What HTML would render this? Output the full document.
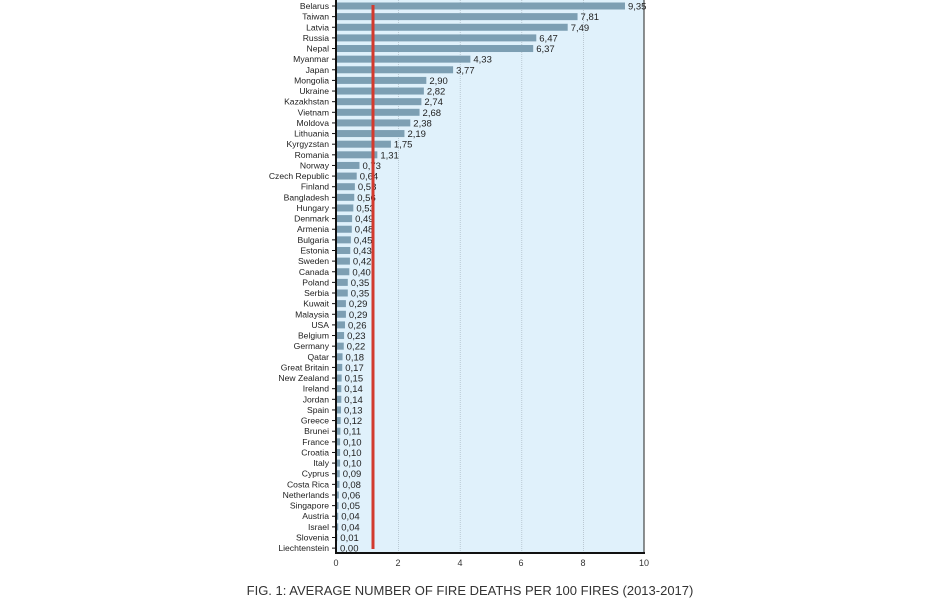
<!DOCTYPE html>
<html><head><meta charset="utf-8"><style>
html,body{margin:0;padding:0;background:#fff;}
svg{display:block;font-family:"Liberation Sans",sans-serif;}
</style></head><body>
<svg width="940" height="600" viewBox="0 0 940 600" xmlns="http://www.w3.org/2000/svg" id="s">
<rect x="337" y="0" width="307" height="553" fill="#e0f1fb"/>
<g stroke="#aab8c2" stroke-width="0.7" stroke-dasharray="1,1">
<line x1="398.6" y1="0" x2="398.6" y2="553"/><line x1="460.2" y1="0" x2="460.2" y2="553"/>
<line x1="521.8" y1="0" x2="521.8" y2="553"/><line x1="583.4" y1="0" x2="583.4" y2="553"/>
</g>
<line x1="644" y1="0" x2="644" y2="553" stroke="#222" stroke-width="1"/>
<g id="rows"></g>
<line x1="373" y1="5" x2="373" y2="549" stroke="#d23a2e" stroke-width="3"/>
<line x1="336" y1="0" x2="336" y2="554" stroke="#111" stroke-width="2"/>
<line x1="335" y1="553" x2="645" y2="553" stroke="#111" stroke-width="2"/>
<g font-size="9" fill="#333" text-anchor="middle">
<text x="336" y="566">0</text><text x="398" y="566">2</text><text x="460" y="566">4</text><text x="521" y="566">6</text><text x="583" y="566">8</text><text x="644" y="566">10</text>
</g>
<text x="470" y="595" font-size="13" fill="#333" text-anchor="middle">FIG. 1:  AVERAGE NUMBER OF FIRE DEATHS PER 100 FIRES (2013-2017)</text>
</svg>
<script>
var d=[["Belarus",9.35],["Taiwan",7.81],["Latvia",7.49],["Russia",6.47],["Nepal",6.37],["Myanmar",4.33],["Japan",3.77],["Mongolia",2.90],["Ukraine",2.82],["Kazakhstan",2.74],["Vietnam",2.68],["Moldova",2.38],["Lithuania",2.19],["Kyrgyzstan",1.75],["Romania",1.31],["Norway",0.73],["Czech Republic",0.64],["Finland",0.58],["Bangladesh",0.56],["Hungary",0.53],["Denmark",0.49],["Armenia",0.48],["Bulgaria",0.45],["Estonia",0.43],["Sweden",0.42],["Canada",0.40],["Poland",0.35],["Serbia",0.35],["Kuwait",0.29],["Malaysia",0.29],["USA",0.26],["Belgium",0.23],["Germany",0.22],["Qatar",0.18],["Great Britain",0.17],["New Zealand",0.15],["Ireland",0.14],["Jordan",0.14],["Spain",0.13],["Greece",0.12],["Brunei",0.11],["France",0.10],["Croatia",0.10],["Italy",0.10],["Cyprus",0.09],["Costa Rica",0.08],["Netherlands",0.06],["Singapore",0.05],["Austria",0.04],["Israel",0.04],["Slovenia",0.01],["Liechtenstein",0.00]];
var g=document.getElementById("rows"),h="";
for(var i=0;i<d.length;i++){var y=6+i*10.63,w=d[i][1]*30.8;
h+='<rect x="337" y="'+(y-3.5)+'" width="'+w+'" height="7" fill="#7d9fb3"/>';
h+='<line x1="332" y1="'+y+'" x2="336" y2="'+y+'" stroke="#111" stroke-width="1"/>';
h+='<text x="329" y="'+(y+3)+'" font-size="8.6" fill="#222" text-anchor="end">'+d[i][0]+'</text>';
h+='<text x="'+(340+w)+'" y="'+(y+3.5)+'" font-size="9.5" fill="#222">'+d[i][1].toFixed(2).replace(".",",")+'</text>';}
g.innerHTML=h;
</script>
</body></html>
